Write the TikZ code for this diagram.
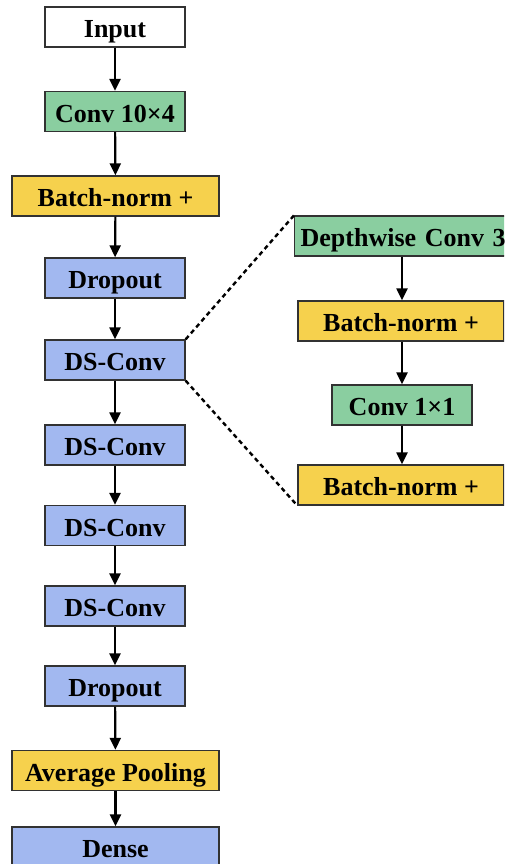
\documentclass[tikz,border=0pt]{standalone}
\usepackage{fontspec}
\setmainfont{Liberation Serif}
\usetikzlibrary{arrows.meta}
\definecolor{convgreen}{RGB}{138,206,160}
\definecolor{normyellow}{RGB}{246,209,77}
\definecolor{layerblue}{RGB}{162,184,240}
\definecolor{edgegray}{RGB}{50,50,50}
\tikzset{
  layer/.style={draw=edgegray, line width=1.3pt, minimum height=40pt, inner sep=0pt,
    text height=21pt, text depth=0pt,
    font=\fontsize{26}{30}\selectfont\bfseries},
  narrow/.style={layer, minimum width=140pt},
  wide/.style={layer, minimum width=207pt},
  flow/.style={-{Triangle[length=12pt,width=11pt]}, line width=2.2pt},
  zoomline/.style={line width=2.4pt, dash pattern=on 4.5pt off 3.5pt}
}
\begin{document}
\begin{tikzpicture}[x=1pt, y=-1pt]
  \useasboundingbox (0,0) rectangle (504,864);
  \clip (0,0) rectangle (504,864);
  % main pipeline
  \node[narrow, fill=white]      (in)   at (115,27)    {Input};
  \node[narrow, fill=convgreen]  (conv) at (115,111.5) {Conv 10×4};
  \node[wide,   fill=normyellow] (bn)   at (115.5,196) {Batch-norm +};
  \node[narrow, fill=layerblue]  (dr1)  at (115,278)   {Dropout};
  \node[narrow, fill=layerblue]  (ds1)  at (115,360)   {DS-Conv};
  \node[narrow, fill=layerblue]  (ds2)  at (115,445)   {DS-Conv};
  \node[narrow, fill=layerblue]  (ds3)  at (115,525.5) {DS-Conv};
  \node[narrow, fill=layerblue]  (ds4)  at (115,606)   {DS-Conv};
  \node[narrow, fill=layerblue]  (dr2)  at (115,686)   {Dropout};
  \node[wide,   fill=normyellow] (pool) at (115.5,770.5) {Average Pooling};
  \node[wide,   fill=layerblue]  (dense) at (115.5,847) {Dense};
  \foreach \a/\b in {in/conv, conv/bn, bn/dr1, dr1/ds1, ds1/ds2, ds2/ds3, ds3/ds4, ds4/dr2, dr2/pool, pool/dense}
    \draw[flow] (\a) -- (\b);
  % expanded DS-Conv block
  \node[layer, fill=convgreen, minimum width=250pt, anchor=west, align=left,
        text width=238pt, inner xsep=6pt] (dw) at (294,236) {Depthwise Conv 3};
  \node[wide, minimum width=206pt, fill=normyellow] (bna) at (401,321) {Batch-norm +};
  \node[narrow, fill=convgreen]  (pw)  at (402,405) {Conv 1×1};
  \node[wide, minimum width=206pt, fill=normyellow] (bnb) at (401,485) {Batch-norm +};
  \draw[flow] (dw.south -| pw) -- (pw |- bna.north);
  \draw[flow] (bna.south -| pw) -- (pw);
  \draw[flow] (pw) -- (pw |- bnb.north);
  \draw[zoomline] (ds1.north east) -- (dw.north west);
  \draw[zoomline] (ds1.south east) -- (bnb.south west);
\end{tikzpicture}
\end{document}
